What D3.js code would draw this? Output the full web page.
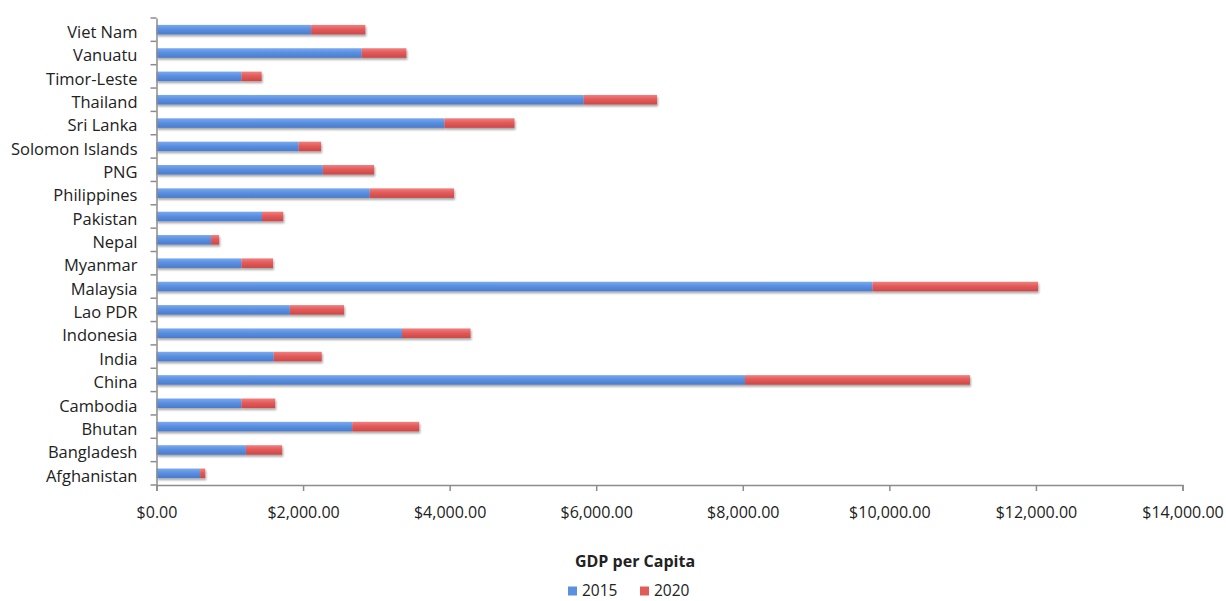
<!DOCTYPE html>
<html>
<head>
<meta charset="utf-8">
<script src="https://cdn.jsdelivr.net/npm/d3@7"></script>
<style>
  html, body { margin: 0; padding: 0; background: #fff; }
  svg { display: block; }
  text { font-family: "Open Sans", Lato, sans-serif; fill: #222; }
</style>
</head>
<body>
<svg id="chart" width="1226" height="601"></svg>
<script>
// Countries, listed top to bottom as drawn
const countries = ["Viet Nam", "Vanuatu", "Timor-Leste", "Thailand", "Sri Lanka",
  "Solomon Islands", "PNG", "Philippines", "Pakistan", "Nepal", "Myanmar",
  "Malaysia", "Lao PDR", "Indonesia", "India", "China", "Cambodia", "Bhutan",
  "Bangladesh", "Afghanistan"];

// GDP per capita (USD), stacked series
const gdp2015 = [2110, 2800, 1160, 5830, 3930, 1940, 2270, 2910, 1440, 745, 1160,
  9770, 1820, 3350, 1600, 8030, 1160, 2670, 1220, 595];
const gdp2020 = [740, 610, 275, 1000, 955, 305, 700, 1150, 290, 110, 430,
  2260, 740, 935, 655, 3070, 460, 915, 495, 70];

const seriesNames = ["2015", "2020"];
const xTicks = [0, 2000, 4000, 6000, 8000, 10000, 12000, 14000];

const svg = d3.select("#chart");
const margin = { left: 156.5, right: 1182.5, top: 18, bottom: 485 };

const x = d3.scaleLinear().domain([0, 14000]).range([margin.left, margin.right]);
const y = d3.scaleBand().domain(countries).range([margin.top, margin.bottom])
  .paddingInner(0.59).paddingOuter(0.295);

// Gradients for the bar fills
const defs = svg.append("defs");
function grad(id, top, mid, bot) {
  const g = defs.append("linearGradient").attr("id", id)
    .attr("x1", 0).attr("y1", 0).attr("x2", 0).attr("y2", 1);
  g.append("stop").attr("offset", "0%").attr("stop-color", top);
  g.append("stop").attr("offset", "45%").attr("stop-color", mid);
  g.append("stop").attr("offset", "100%").attr("stop-color", bot);
}
grad("g2015", "#7aa9ee", "#5b8fe0", "#4a7bcc");
grad("g2020", "#f08080", "#e35a5a", "#cc4848");
const shadow = defs.append("filter").attr("id", "shadow")
  .attr("x", "-2%").attr("y", "-40%").attr("width", "104%").attr("height", "200%");
shadow.append("feGaussianBlur").attr("in", "SourceAlpha").attr("stdDeviation", 1.2).attr("result", "b");
shadow.append("feOffset").attr("in", "b").attr("dx", 0.5).attr("dy", 2).attr("result", "o");
shadow.append("feComponentTransfer").attr("in", "o").attr("result", "s")
  .append("feFuncA").attr("type", "linear").attr("slope", 0.35);
const merge = shadow.append("feMerge");
merge.append("feMergeNode").attr("in", "s");
merge.append("feMergeNode").attr("in", "SourceGraphic");

// Stacked data
const rows = countries.map((c, i) => ({ country: c, "2015": gdp2015[i], "2020": gdp2020[i] }));
const stack = d3.stack().keys(seriesNames)(rows);
const fills = { "2015": "url(#g2015)", "2020": "url(#g2020)" };
const swatch = { "2015": "#5b8fe0", "2020": "#e35a5a" };

const barsG = svg.append("g").attr("filter", "url(#shadow)");
stack.forEach(layer => {
  barsG.append("g").selectAll("rect").data(layer).join("rect")
    .attr("x", d => x(d[0]))
    .attr("y", d => y(d.data.country))
    .attr("width", d => x(d[1]) - x(d[0]))
    .attr("height", y.bandwidth())
    .attr("fill", fills[layer.key]);
});

// Axes
const axisColor = "#8c8c8c";
const xAxis = svg.append("g").attr("transform", `translate(0,${margin.bottom})`)
  .call(d3.axisBottom(x).tickValues(xTicks).tickSize(6).tickPadding(16)
    .tickFormat(d => "$" + d3.format(",.2f")(d)));
xAxis.select(".domain").attr("stroke", axisColor).attr("stroke-width", 1.5);
xAxis.selectAll(".tick line").attr("stroke", axisColor).attr("stroke-width", 1.5);
xAxis.selectAll("text").style("font-size", "16px").attr("fill", "#222");

const yAxis = svg.append("g").attr("transform", `translate(${margin.left},0)`)
  .call(d3.axisLeft(y).tickSize(0).tickPadding(19));
yAxis.select(".domain").attr("stroke", axisColor).attr("stroke-width", 1.5);
yAxis.selectAll("text").style("font-size", "16.5px").attr("fill", "#222")
  .attr("dy", "0.5em");

// Tick marks on band boundaries
const step = (margin.bottom - margin.top) / countries.length;
svg.append("g").selectAll("line")
  .data(d3.range(countries.length + 1))
  .join("line")
  .attr("x1", margin.left - 6).attr("x2", margin.left)
  .attr("y1", i => margin.top + i * step).attr("y2", i => margin.top + i * step)
  .attr("stroke", axisColor).attr("stroke-width", 1.5);

// Axis title
svg.append("text").attr("x", 635).attr("y", 567).attr("text-anchor", "middle")
  .style("font-size", "16px").style("font-weight", "bold").text("GDP per Capita");

// Legend
const legend = svg.append("g").attr("transform", "translate(568,591)");
const items = legend.selectAll("g").data(seriesNames).join("g")
  .attr("transform", (d, i) => `translate(${i * 72},0)`);
items.append("rect").attr("x", 0).attr("y", -4.5).attr("width", 9).attr("height", 9)
  .attr("fill", d => swatch[d]);
items.append("text").attr("x", 14).attr("y", 5).style("font-size", "15.5px").text(d => d);
</script>
</body>
</html>
